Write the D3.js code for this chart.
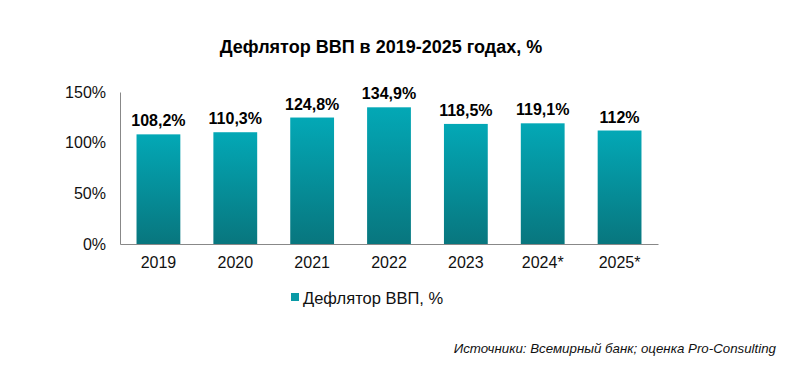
<!DOCTYPE html>
<html><head><meta charset="utf-8">
<script src="https://cdn.jsdelivr.net/npm/d3@7"></script>
<style>body{margin:0;background:#fff}svg{font-family:"Liberation Sans",Arial,sans-serif}</style>
</head><body>
<svg id="c" width="796" height="377"></svg>
<script>
const categories = ["2019","2020","2021","2022","2023","2024*","2025*"];
const values = [108.2,110.3,124.8,134.9,118.5,119.1,112];
const valueLabels = ["108,2%","110,3%","124,8%","134,9%","118,5%","119,1%","112%"];
const yTicks = [0,50,100,150];
const seriesName = "Дефлятор ВВП, %";

const svg = d3.select("#c");
const m = {l:120, r:138, t:92, b:133};
const W = 796, H = 377;
const x = d3.scaleBand().domain(categories).range([m.l, W-m.r]).paddingInner(0.43).paddingOuter(0.215);
const y = d3.scaleLinear().domain([0,150]).range([244, 92]);

const defs = svg.append("defs");
const g = defs.append("linearGradient").attr("id","bg").attr("x1",0).attr("y1",0).attr("x2",0).attr("y2",1);
g.append("stop").attr("offset","0%").attr("stop-color","#03A8B6");
g.append("stop").attr("offset","100%").attr("stop-color","#08767E");

svg.append("text").attr("x",381).attr("y",53).attr("text-anchor","middle")
  .attr("font-size",18).attr("font-weight","bold").attr("fill","#000").text("Дефлятор ВВП в 2019-2025 годах, %");

svg.selectAll("rect.bar").data(values).join("rect").attr("class","bar")
  .attr("x",(d,i)=>x(categories[i])).attr("width",x.bandwidth())
  .attr("y",d=>y(d)).attr("height",d=>y(0)-y(d)).attr("fill","url(#bg)");

svg.selectAll("text.vl").data(values).join("text").attr("class","vl")
  .attr("x",(d,i)=>x(categories[i])+x.bandwidth()/2).attr("y",d=>y(d)-8)
  .attr("text-anchor","middle").attr("font-size",16).attr("font-weight","bold").attr("fill","#000")
  .text((d,i)=>valueLabels[i]);

// axes
const ya = svg.append("g").attr("transform",`translate(${m.l},0)`)
  .call(d3.axisLeft(y).tickValues(yTicks).tickSize(0).tickPadding(14).tickFormat(d=>d+"%"));
ya.select(".domain").attr("stroke","#888");
ya.selectAll("text").attr("font-size",16).attr("fill","#111").attr("font-family","'Liberation Sans',Arial,sans-serif");

const xa = svg.append("g").attr("transform",`translate(0,${y(0)})`)
  .call(d3.axisBottom(x).tickSize(0).tickPadding(13));
xa.select(".domain").attr("stroke","#888");
xa.selectAll("text").attr("font-size",16).attr("fill","#111").attr("font-family","'Liberation Sans',Arial,sans-serif");

// legend
const lg = svg.append("g").attr("transform","translate(291,298)");
lg.append("rect").attr("x",0).attr("y",-5).attr("width",8).attr("height",8).attr("fill","#0A9AA6");
lg.append("text").attr("x",12).attr("y",6).attr("font-size",16.5).attr("fill","#111").text(seriesName);

svg.append("text").attr("x",776).attr("y",353).attr("text-anchor","end")
  .attr("font-size",13.3).attr("font-style","italic").attr("fill","#111")
  .text("Источники: Всемирный банк; оценка Pro-Consulting");
</script>
</body></html>
